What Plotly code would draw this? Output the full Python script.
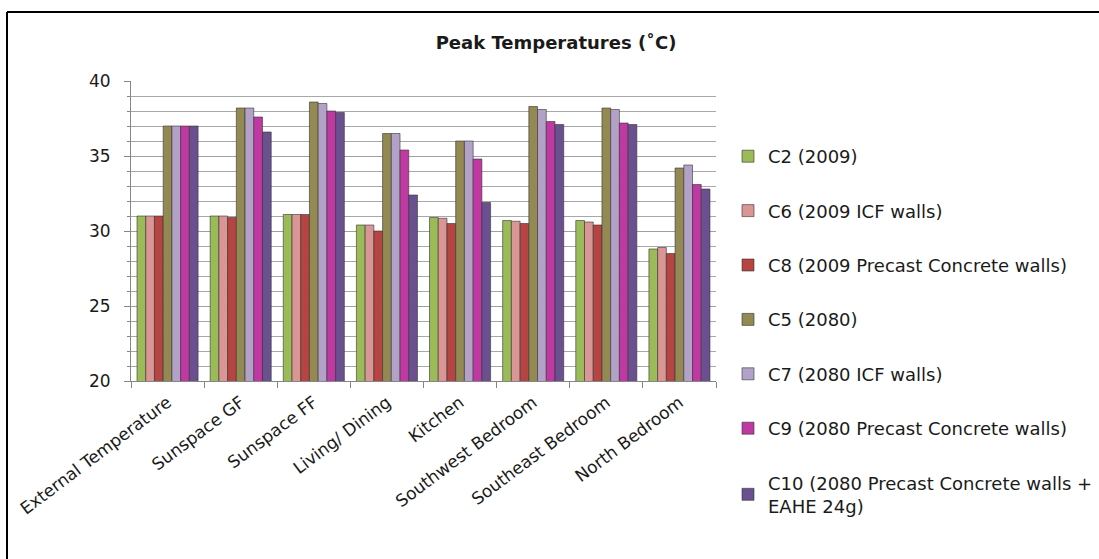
import plotly.graph_objects as go

categories = ["External Temperature", "Sunspace GF", "Sunspace FF", "Living/ Dining",
              "Kitchen", "Southwest Bedroom", "Southeast Bedroom", "North Bedroom"]

series_names = ["C2 (2009)", "C6 (2009 ICF walls)", "C8 (2009 Precast Concrete walls)",
                "C5 (2080)", "C7 (2080 ICF walls)", "C9 (2080 Precast Concrete walls)",
                "C10 (2080 Precast Concrete walls +<br>EAHE 24g)"]

c2 = [31.0, 31.0, 31.1, 30.4, 30.9, 30.7, 30.7, 28.8]
c6 = [31.0, 31.0, 31.1, 30.4, 30.85, 30.65, 30.6, 28.9]
c8 = [31.0, 30.9, 31.1, 30.0, 30.5, 30.5, 30.4, 28.5]
c5 = [37.0, 38.2, 38.6, 36.5, 36.0, 38.3, 38.2, 34.2]
c7 = [37.0, 38.2, 38.5, 36.5, 36.0, 38.1, 38.1, 34.4]
c9 = [37.0, 37.6, 38.0, 35.4, 34.8, 37.3, 37.2, 33.1]
c10 = [37.0, 36.6, 37.9, 32.4, 31.9, 37.1, 37.1, 32.8]

series_values = [c2, c6, c8, c5, c7, c9, c10]
colors = ["#9BBB59", "#D99694", "#B54442", "#938953", "#B3A2C7", "#C038A2", "#6B5090"]

y_ticks = [20, 25, 30, 35, 40]

FONT = "DejaVu Sans"
TXT = "#1a1a1a"

fig = go.Figure()
for i, (name, vals, col) in enumerate(zip(series_names, series_values, colors)):
    fig.add_trace(go.Bar(
        x=categories, y=vals, name=name, legendgroup=f"g{i}",
        marker=dict(color=col, line=dict(color="rgba(50,50,50,0.75)", width=0.8)),
    ))

fig.update_layout(
    width=1099, height=559,
    paper_bgcolor="white", plot_bgcolor="white",
    margin=dict(l=131, r=383, t=81, b=178, autoexpand=False),
    barmode="group", bargap=0.165, bargroupgap=0,
    title=dict(text="<b>Peak Temperatures (˚C)</b>", x=0.506, xanchor="center",
               y=1 - 43 / 559, yanchor="middle",
               font=dict(family=FONT, size=18, color=TXT)),
    font=dict(family=FONT, color=TXT),
    legend=dict(x=(728 - 131) / 585, xanchor="left", y=(381 - 138) / 300, yanchor="top",
                font=dict(family=FONT, size=18, color=TXT),
                tracegroupgap=28, itemwidth=30, bgcolor="rgba(0,0,0,0)", maxheight=600),
    showlegend=True,
)

fig.update_yaxes(
    range=[20, 40], tickvals=y_ticks, ticktext=[str(v) for v in y_ticks],
    showgrid=True, gridcolor="#A0A0A0", gridwidth=1,
    ticks="outside", ticklen=6, tickcolor="#868686",
    showline=True, linecolor="#868686", linewidth=1,
    tickfont=dict(family=FONT, size=17, color=TXT), ticklabelstandoff=10,
    minor=dict(dtick=1, showgrid=True, gridcolor="#A8A8A8", gridwidth=1,
               ticks="outside", ticklen=3, tickcolor="#868686"),
    zeroline=False, automargin=False,
)
fig.update_xaxes(
    tickangle=-37, tickson="boundaries", ticks="outside", ticklen=6, tickcolor="#868686",
    showline=True, linecolor="#868686", linewidth=1,
    tickfont=dict(family=FONT, size=17, color=TXT), ticklabelstandoff=4,
    showgrid=False, automargin=False,
)

# outer frame (only left and top edges visible in the crop)
fig.add_shape(type="line", xref="paper", yref="paper",
              x0=(7 - 131) / 585, x1=(7 - 131) / 585, y0=(381 - 559) / 300, y1=(381 - 12) / 300,
              line=dict(color="black", width=2))
fig.add_shape(type="line", xref="paper", yref="paper",
              x0=(7 - 131) / 585, x1=(1099 - 131) / 585, y0=(381 - 12) / 300, y1=(381 - 12) / 300,
              line=dict(color="black", width=2))

fig.write_html("out.html", config={"displayModeBar": False},
               post_script="document.body.style.margin='0';document.body.style.overflow='hidden';")
